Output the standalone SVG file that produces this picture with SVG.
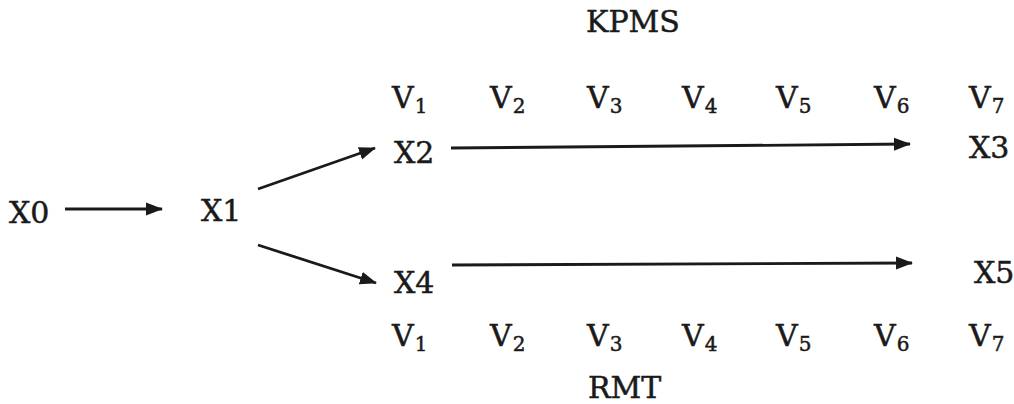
<svg xmlns="http://www.w3.org/2000/svg" width="1014" height="404" viewBox="0 0 1014 404">
<style>
  text { font-family: "DejaVu Serif", "Liberation Serif", serif; font-size: 30px; fill: #1a1a1a; stroke: #1a1a1a; stroke-width: 0.5; }
  .sub { font-size: 20px; }
  .edge { stroke: #1a1a1a; stroke-width: 2.8; fill: none; }
</style>
<defs>
  <marker id="arrow" markerUnits="userSpaceOnUse" markerWidth="17" markerHeight="14" refX="16" refY="7" orient="auto">
    <path d="M0,0.5 L17,7 L0,13.5 Z" fill="#1a1a1a"/>
  </marker>
</defs>
<rect width="1014" height="404" fill="#ffffff"/>
<g id="title-kpms"><text x="586" y="32">KPMS</text></g>
<g id="title-rmt"><text x="588" y="398">RMT</text></g>
<g id="v-top">
  <text x="392" y="108">V<tspan class="sub" dx="1" dy="5">1</tspan></text>
  <text x="490" y="108">V<tspan class="sub" dx="1" dy="5">2</tspan></text>
  <text x="587" y="108">V<tspan class="sub" dx="1" dy="5">3</tspan></text>
  <text x="682" y="108">V<tspan class="sub" dx="1" dy="5">4</tspan></text>
  <text x="776" y="108">V<tspan class="sub" dx="1" dy="5">5</tspan></text>
  <text x="874" y="108">V<tspan class="sub" dx="1" dy="5">6</tspan></text>
  <text x="969" y="108">V<tspan class="sub" dx="1" dy="5">7</tspan></text>
</g>
<g id="v-bottom">
  <text x="392" y="346">V<tspan class="sub" dx="1" dy="5">1</tspan></text>
  <text x="490" y="346">V<tspan class="sub" dx="1" dy="5">2</tspan></text>
  <text x="587" y="346">V<tspan class="sub" dx="1" dy="5">3</tspan></text>
  <text x="682" y="346">V<tspan class="sub" dx="1" dy="5">4</tspan></text>
  <text x="776" y="346">V<tspan class="sub" dx="1" dy="5">5</tspan></text>
  <text x="874" y="346">V<tspan class="sub" dx="1" dy="5">6</tspan></text>
  <text x="969" y="346">V<tspan class="sub" dx="1" dy="5">7</tspan></text>
</g>
<g id="X0"><text x="9" y="223">X0</text></g>
<g id="X1"><text x="201" y="221">X1</text></g>
<g id="X2"><text x="394" y="163">X2</text></g>
<g id="X3"><text x="969" y="158">X3</text></g>
<g id="X4"><text x="394" y="293">X4</text></g>
<g id="X5"><text x="974" y="283">X5</text></g>
<g id="connectors">
  <line class="edge" x1="65" y1="209" x2="162" y2="209" marker-end="url(#arrow)"/>
  <line class="edge" x1="258" y1="189" x2="375" y2="148" marker-end="url(#arrow)"/>
  <line class="edge" x1="258" y1="245" x2="376" y2="283" marker-end="url(#arrow)"/>
  <line class="edge" x1="451" y1="148" x2="910" y2="144" marker-end="url(#arrow)"/>
  <line class="edge" x1="452" y1="265" x2="912" y2="263" marker-end="url(#arrow)"/>
</g>
</svg>
